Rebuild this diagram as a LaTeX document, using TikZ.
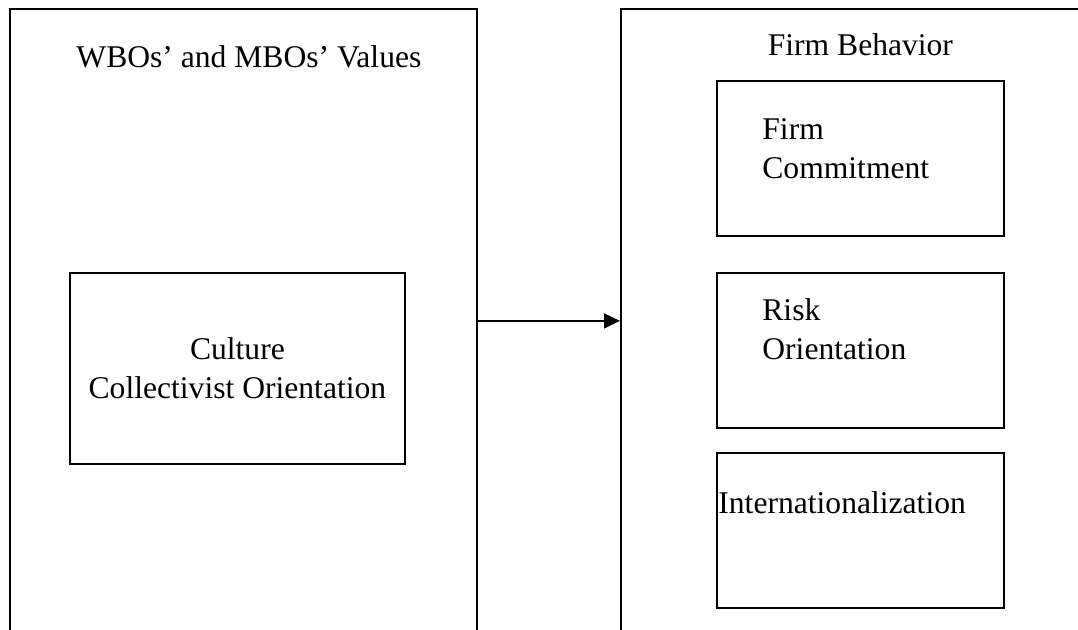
\documentclass[tikz,border=0pt]{standalone}
\usepackage{fontspec}
\setmainfont{Liberation Serif}
\usetikzlibrary{arrows.meta,positioning,calc}

\begin{document}
\begin{tikzpicture}[x=0.5pt, y=-0.5pt,
	every node/.style={font=\fontsize{15.8}{19.5}\selectfont},
	box/.style={rectangle, draw, line width=0.9pt},
	lbl/.style={inner sep=0pt, align=left}]
	\useasboundingbox (0,0) rectangle (1078,629);
	\clip (0,0) rectangle (1078,629);
	% outer boxes run off the page
	\node[box, anchor=north west, minimum width=233.5pt, minimum height=312pt] (values) at (9,8) {};
	\node[box, anchor=north west, minimum width=240pt, minimum height=312pt] (behavior) at (620,8) {};
	\node[anchor=base] (valuestitle) at ([xshift=2.75pt, yshift=-29.5pt]values.north) {WBOs’ and MBOs’ Values};

	\node[box, anchor=north west, minimum width=167.5pt, minimum height=95.5pt, align=center] (culture) at (69,272) {Culture\\Collectivist Orientation};

	\node[box, anchor=north west, minimum width=143.5pt, minimum height=77.5pt] (commit) at (716,80) {};
	\node[box, minimum width=143.5pt, minimum height=77.5pt, below=17.6pt of commit] (risk) {};
	\node[box, minimum width=143.5pt, minimum height=77.5pt, below=11.6pt of risk] (intl) {};
	\node[anchor=base] (behaviortitle) at ([yshift=12.5pt]commit.north) {Firm Behavior};

	\node[lbl, below right=19pt and 23pt of commit.north west] (commitlbl) {Firm\\Commitment};
	\node[lbl, below right=13pt and 23pt of risk.north west] (risklbl) {Risk\\Orientation};
	\node[lbl, below right=19.5pt and 1pt of intl.north west] (intllbl) {Internationalization};

	\draw[line width=0.75pt, -{Triangle[length=8pt, width=7.5pt]}] (values.east) -- (behavior.west);
\end{tikzpicture}
\end{document}
